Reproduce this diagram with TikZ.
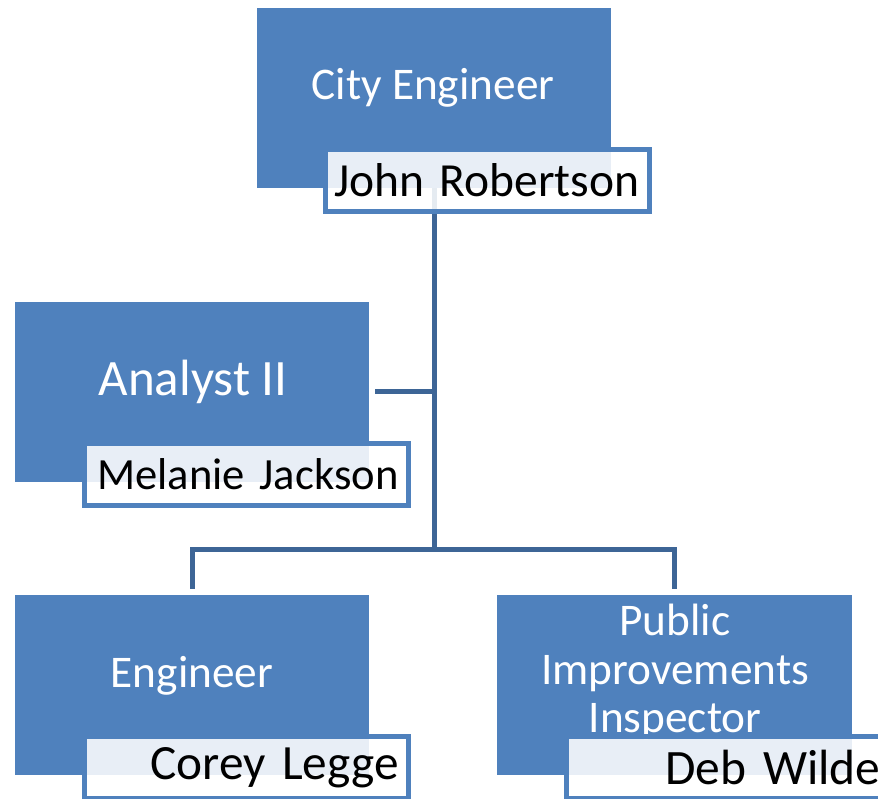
\documentclass[tikz,border=0pt]{standalone}
\usepackage{fontspec}
\setmainfont{Carlito}
\definecolor{boxblue}{HTML}{4F81BD}
\definecolor{lblue}{HTML}{4F81BD}
\definecolor{connblue}{HTML}{3D6596}
\newcommand{\rname}[1]{\makebox[300pt][r]{#1\hspace*{-2pt}}}
\tikzset{
  box/.style={fill=boxblue, draw=none, minimum width=354pt, minimum height=180pt, inner sep=0pt},
  titletext/.style={text=white, font=\fontsize{45.3}{48.5}\selectfont, align=center, inner sep=0pt},
  namebox/.style={draw=lblue, line width=5pt, fill=white, fill opacity=0.87, text opacity=1,
    minimum width=324pt, minimum height=62pt, text width=300pt, inner xsep=12pt, inner ysep=0pt,
    align=right, font=\fontsize{47}{52}\selectfont},
  conn/.style={draw=connblue, line width=5pt, line join=miter}
}
\begin{document}
\begin{tikzpicture}[x=1pt,y=1pt]
\useasboundingbox (0,0) rectangle (878,-799);
\clip (0,0) rectangle (878,-799);
% boxes (positions)
\path (434,-98) node[box] (ce) {};
\path (192,-392) node[box] (an) {};
\path (192,-685) node[box] (en) {};
\path (674.5,-685) node[box] (pi) {};
\coordinate (hub) at (434,-549);
% connectors
\draw[conn] (ce.south) -- (hub);
\draw[conn] ([xshift=6pt]an.east) -- (an.east -| hub);
\draw[conn] ([yshift=6pt]en.north) -- (en.north |- hub) -- (pi.north |- hub) -- ([yshift=6pt]pi.north);
% redraw boxes over connectors
\fill[boxblue] (ce.south west) rectangle (ce.north east);
\fill[boxblue] (an.south west) rectangle (an.north east);
\fill[boxblue] (en.south west) rectangle (en.north east);
\fill[boxblue] (pi.south west) rectangle (pi.north east);
% titles
\node[titletext] (cet) at (433,-88) {City Engineer};
\node[titletext, font=\fontsize{51}{55}\selectfont] (ant) at (193,-382) {Analyst II};
\node[titletext] (ent) at (192,-676) {Engineer};
\node[titletext] (pit) at (675,-672) {Public\\Improvements\\Inspector};
% name labels
\node[namebox, font=\fontsize{47.5}{52}\selectfont] (jr) at (487.5,-180.5) {\rname{John Robertson}};
\node[namebox, font=\fontsize{44.6}{50}\selectfont] (mj) at (246.5,-474.5) {\rname{Melanie Jackson}};
\node[namebox, font=\fontsize{49.3}{54}\selectfont] (cl) at (246.5,-767.5) {\rname{Corey Legge}};
\node[namebox, font=\fontsize{49.5}{54}\selectfont] (dw) at (728.5,-767.5) {\rname{Deb Wilde}};
\end{tikzpicture}
\end{document}
